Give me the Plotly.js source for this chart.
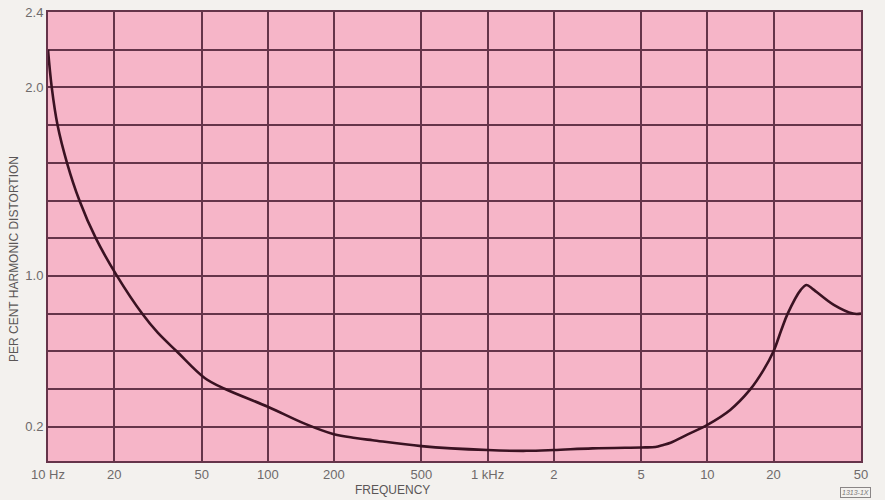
<!DOCTYPE html>
<html>
<head>
<meta charset="utf-8">
<script src="https://cdn.plot.ly/plotly-3.0.1.min.js"></script>
<style>
  html, body { margin: 0; padding: 0; background: #f3f1ee; }
  #chart { width: 885px; height: 500px; }
</style>
</head>
<body>
<div id="chart"></div>
<script>
// Frequency (Hz) and per cent harmonic distortion
const frequencyHz = [10, 10.4, 11.05, 12.2, 13.9, 16.5, 20.6, 26.8, 31.5, 38.5, 51.8, 64, 100, 148, 200, 250, 300, 500, 1000, 1500, 2000, 3000, 5000, 5800, 6300, 6800, 8100, 10000, 12700, 15600, 18000, 20000, 21700, 23200, 26600, 28300, 30200, 37600, 46000, 50000];
const distortionPct = [2.2, 2.0, 1.8, 1.6, 1.4, 1.2, 1.0, 0.8, 0.7, 0.6, 0.457, 0.4, 0.306, 0.215, 0.16, 0.14, 0.128, 0.097, 0.076, 0.072, 0.076, 0.085, 0.09, 0.092, 0.103, 0.115, 0.158, 0.21, 0.289, 0.395, 0.5, 0.6, 0.713, 0.8, 0.926, 0.952, 0.93, 0.846, 0.80, 0.80];

// Axis ticks
const xTickVals = [10, 20, 50, 100, 200, 500, 1000, 2000, 5000, 10000, 20000, 50000];
const xTickText = ['10 Hz', '20', '50', '100', '200', '500', '1 kHz', '2', '5', '10', '20', '50'];
const yTickVals = [0.2, 0.4, 0.6, 0.8, 1.0, 1.2, 1.4, 1.6, 1.8, 2.0, 2.2, 2.4];
const yTickText = ['0.2', '', '', '', '1.0', '', '', '', '', '2.0', '', '2.4'];

const gridColor = '#65344a';
const tickFont = { family: 'Liberation Sans, Arial, sans-serif', size: 13, color: '#6e6a6a' };

const L = 48, R = 24, T = 12, B = 39, W = 885, H = 500;
const pw = W - L - R, ph = H - T - B;

const trace = {
  x: frequencyHz,
  y: distortionPct,
  type: 'scatter',
  mode: 'lines',
  line: { color: '#3a1222', width: 2.6, shape: 'spline', smoothing: 1 },
  hoverinfo: 'x+y'
};

const layout = {
  width: W,
  height: H,
  margin: { l: L, r: R, t: T, b: B },
  paper_bgcolor: '#f3f1ee',
  plot_bgcolor: '#f6b5c8',
  showlegend: false,
  xaxis: {
    type: 'log',
    range: [1, Math.log10(50000)],
    tickmode: 'array',
    tickvals: xTickVals,
    ticktext: xTickText,
    showgrid: true,
    gridcolor: gridColor,
    gridwidth: 2,
    showline: true,
    linecolor: gridColor,
    linewidth: 2,
    mirror: true,
    ticks: '',
    tickfont: tickFont,
    zeroline: false,
    fixedrange: true
  },
  yaxis: {
    range: [0.018, 2.4],
    tickmode: 'array',
    tickvals: yTickVals,
    ticktext: yTickText,
    showgrid: true,
    gridcolor: gridColor,
    gridwidth: 2,
    showline: true,
    linecolor: gridColor,
    linewidth: 2,
    mirror: true,
    ticks: '',
    tickfont: tickFont,
    zeroline: false,
    fixedrange: true
  },
  annotations: [
    {
      text: 'FREQUENCY',
      xref: 'paper', yref: 'paper',
      x: (392 - L) / pw, y: -(490 - (H - B)) / ph,
      xanchor: 'center', yanchor: 'middle',
      showarrow: false,
      font: { family: 'Liberation Sans, Arial, sans-serif', size: 12, color: '#5a5656' }
    },
    {
      text: 'PER CENT HARMONIC DISTORTION',
      xref: 'paper', yref: 'paper',
      x: (14 - L) / pw, y: ((H - B) - 259) / ph,
      xanchor: 'center', yanchor: 'middle',
      textangle: -90,
      showarrow: false,
      font: { family: 'Liberation Sans, Arial, sans-serif', size: 12, color: '#5a5656' }
    },
    {
      text: '<i>1313-1X</i>',
      xref: 'paper', yref: 'paper',
      x: (855 - L) / pw, y: -(492 - (H - B)) / ph,
      xanchor: 'center', yanchor: 'middle',
      showarrow: false,
      bordercolor: '#8a8686',
      borderwidth: 1,
      borderpad: 1,
      font: { family: 'Liberation Sans, Arial, sans-serif', size: 7, color: '#7a7676' }
    }
  ]
};

Plotly.newPlot('chart', [trace], layout, { displayModeBar: false, staticPlot: true });
</script>
</body>
</html>
